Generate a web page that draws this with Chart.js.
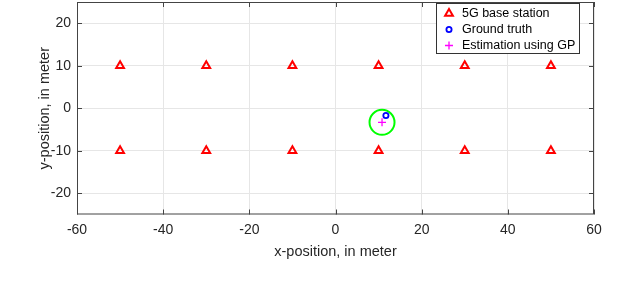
<!DOCTYPE html>
<html>
<head>
<meta charset="utf-8">
<script src="https://cdn.jsdelivr.net/npm/chart.js@4/dist/chart.umd.min.js"></script>
<style>
  html, body { margin: 0; padding: 0; background: #fff; }
  #wrap { width: 634px; height: 292px; }
</style>
</head>
<body>
<div id="wrap"><canvas id="posChart"></canvas></div>
<script>
// base station grid
const stationX = [-50, -30, -10, 10, 30, 50, -50, -30, -10, 10, 30, 50];
const stationY = [10, 10, 10, 10, 10, 10, -10, -10, -10, -10, -10, -10];
// UE position
const truthX = [11.7];
const truthY = [-1.7];
const estX = [10.8];
const estY = [-3.3];
const xTicks = [-60, -40, -20, 0, 20, 40, 60];
const yTicks = [-20, -10, 0, 10, 20];

const FONT = '"Liberation Sans", Arial, sans-serif';

function toPoints(xs, ys) {
    return xs.map((x, i) => ({ x: x, y: ys[i] }));
}

// inward ticks + full box like matlab
const boxPlugin = {
    id: 'box',
    afterDatasetsDraw(chart) {
        const ctx = chart.ctx;
        const a = chart.chartArea;
        const sx = chart.scales.x, sy = chart.scales.y;
        ctx.save();
        ctx.strokeStyle = '#444';
        ctx.lineWidth = 1;
        ctx.strokeRect(a.left + 0.5, a.top + 0.5, a.right - a.left - 1, a.bottom - a.top - 1);
        ctx.beginPath();
        xTicks.forEach(v => {
            const px = Math.round(sx.getPixelForValue(v)) + 0.5;
            ctx.moveTo(px, a.bottom); ctx.lineTo(px, a.bottom - 5);
            ctx.moveTo(px, a.top); ctx.lineTo(px, a.top + 5);
        });
        yTicks.forEach(v => {
            const py = Math.round(sy.getPixelForValue(v)) + 0.5;
            ctx.moveTo(a.left, py); ctx.lineTo(a.left + 5, py);
            ctx.moveTo(a.right, py); ctx.lineTo(a.right - 5, py);
        });
        ctx.stroke();
        ctx.restore();
    }
};

// legend box in the upper right
const legendPlugin = {
    id: 'boxLegend',
    afterDraw(chart) {
        const ctx = chart.ctx;
        const items = chart.data.datasets.filter(d => d.label);
        const left = 436, top = 3, w = 143, h = 50;
        ctx.save();
        ctx.fillStyle = '#fff';
        ctx.fillRect(left, top, w, h);
        ctx.strokeStyle = '#333';
        ctx.lineWidth = 1;
        ctx.strokeRect(left + 0.5, top + 0.5, w, h);
        items.forEach((d, i) => {
            const y = top + 10.5 + i * 16;
            ctx.save();
            ctx.strokeStyle = d.borderColor;
            ctx.fillStyle = 'rgba(0,0,0,0)';
            ctx.lineWidth = d.pointBorderWidth;
            Chart.helpers.drawPoint(ctx, {
                pointStyle: d.pointStyle,
                radius: d.pointRadius,
                borderWidth: d.pointBorderWidth
            }, left + 13, y);
            ctx.restore();
            ctx.font = '12.5px ' + FONT;
            ctx.textBaseline = 'middle';
            ctx.fillStyle = '#000';
            ctx.fillText(d.label, left + 26, y + 0.5);
        });
        ctx.restore();
    }
};

new Chart(document.getElementById('posChart'), {
    type: 'scatter',
    data: {
        datasets: [
            {
                label: '5G base station',
                data: toPoints(stationX, stationY),
                pointStyle: 'triangle',
                pointRadius: 4.5,
                pointBorderWidth: 2,
                borderColor: '#ff0000',
                backgroundColor: 'rgba(0,0,0,0)'
            },
            {
                label: 'Ground truth',
                data: toPoints(truthX, truthY),
                pointStyle: 'circle',
                pointRadius: 2.6,
                pointBorderWidth: 1.8,
                borderColor: '#0000ff',
                backgroundColor: 'rgba(0,0,0,0)'
            },
            {
                label: 'Estimation using GP',
                data: toPoints(estX, estY),
                pointStyle: 'cross',
                pointRadius: 4,
                pointBorderWidth: 1.3,
                borderColor: '#ff00ff',
                backgroundColor: 'rgba(0,0,0,0)'
            },
            {
                // green ring around the estimate
                data: toPoints(estX, estY),
                pointStyle: 'circle',
                pointRadius: 12.5,
                pointBorderWidth: 2,
                borderColor: '#00ff00',
                backgroundColor: 'rgba(0,0,0,0)'
            }
        ]
    },
    options: {
        responsive: true,
        maintainAspectRatio: false,
        animation: false,
        layout: { autoPadding: false, padding: { top: 2, right: 40, left: 0, bottom: 0 } },
        plugins: {
            legend: { display: false },
            tooltip: { enabled: false }
        },
        scales: {
            x: {
                type: 'linear',
                min: -60,
                max: 60,
                afterBuildTicks: s => { s.ticks = xTicks.map(v => ({ value: v })); },
                afterFit: s => { s.height = 77.5; },
                grid: { color: '#e6e6e6', drawTicks: false },
                border: { display: false },
                ticks: { color: '#262626', padding: 7, font: { family: FONT, size: 14 } },
                title: {
                    display: true,
                    text: 'x-position, in meter',
                    color: '#262626',
                    font: { family: FONT, size: 14.5 },
                    padding: { top: 0, bottom: 31.6 }
                }
            },
            y: {
                type: 'linear',
                min: -25,
                max: 25,
                afterBuildTicks: s => { s.ticks = yTicks.map(v => ({ value: v })); },
                afterFit: s => { s.width = 77; },
                // small lineHeight + hidden tick marks so the labels don't push the plot top down
                grid: { color: '#e6e6e6', drawTicks: true, tickLength: 6, tickColor: 'rgba(0,0,0,0)' },
                border: { display: false },
                ticks: { color: '#262626', padding: 0, font: { family: FONT, size: 14, lineHeight: 0.2 } },
                title: {
                    display: true,
                    text: 'y-position, in meter',
                    color: '#262626',
                    font: { family: FONT, size: 14.5 },
                    padding: { top: 36.3, bottom: 0 }
                }
            }
        }
    },
    plugins: [boxPlugin, legendPlugin]
});
</script>
</body>
</html>
